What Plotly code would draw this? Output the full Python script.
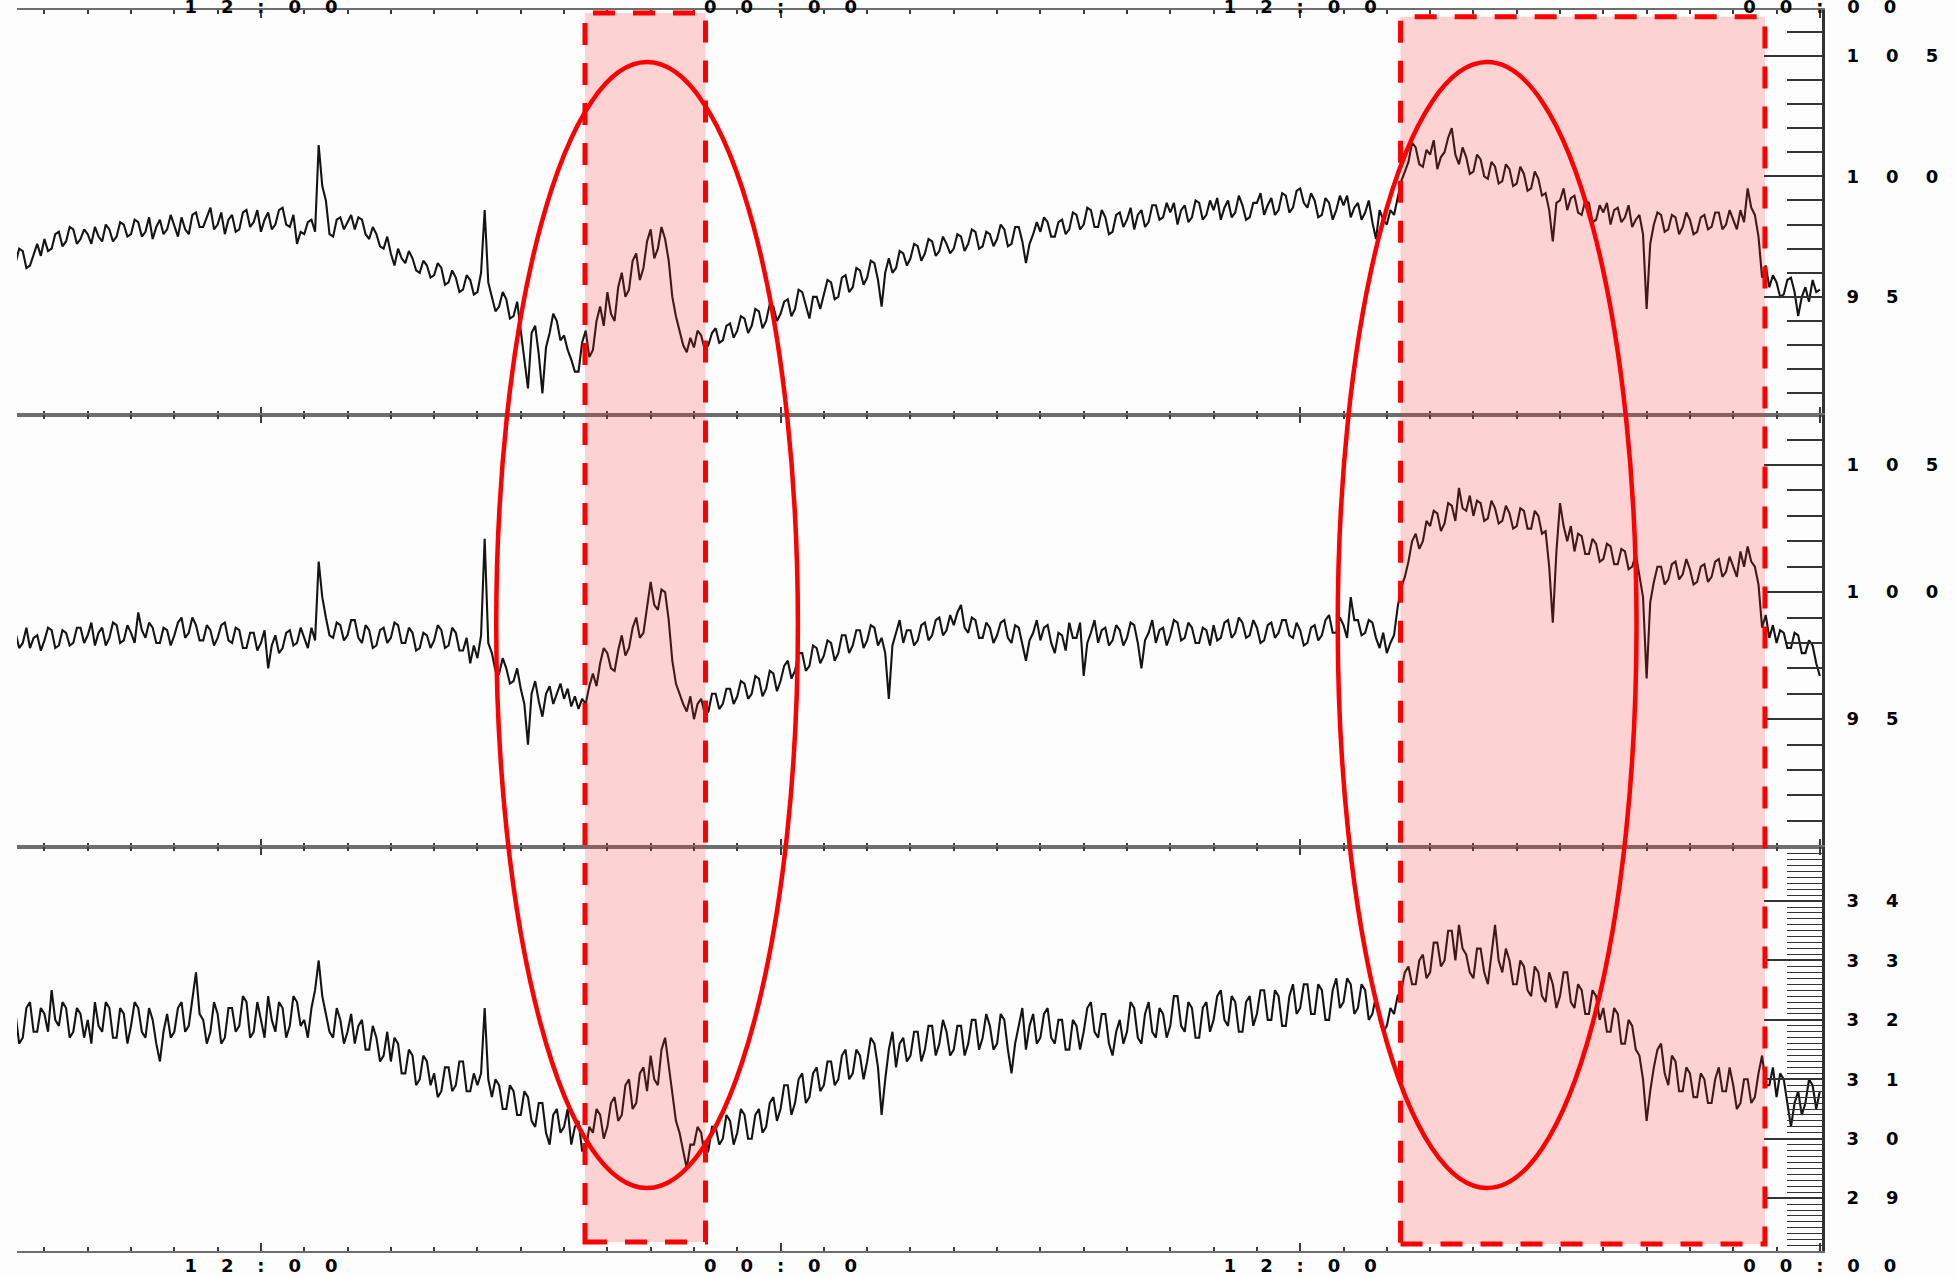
import pandas as pd
import plotly.graph_objects as go

# ---- sampled records: 5-minute values starting 06:00 on day one ----
START = "2011-06-14 06:00"
STEP = "5min"

top_vals = [
    96.8, 96.3, 97.1, 96.6, 96.4, 97.0, 96.9, 96.2, 96.3, 96.8, 97.2, 96.7,
    97.4, 96.9, 97.0, 97.6, 97.7, 97.1, 97.3, 97.9, 97.8, 97.2, 97.4, 97.8,
    97.6, 97.2, 97.9, 97.5, 97.3, 98.0, 97.8, 97.3, 97.5, 98.1, 98.0, 97.5,
    97.6, 98.2, 98.1, 97.5, 97.7, 98.3, 97.4, 97.9, 98.2, 97.6, 97.8, 98.4,
    97.9, 97.5, 98.3, 97.8, 97.6, 98.4, 98.5, 97.9, 97.9, 98.3, 98.7, 97.8,
    98.0, 98.5, 97.6, 98.2, 98.4, 97.7, 97.8, 98.5, 98.6, 97.9, 98.1, 98.6,
    97.7, 98.2, 98.5, 97.8, 98.0, 98.6, 98.7, 98.0, 97.9, 98.4, 97.2, 97.7,
    97.6, 98.1, 98.2, 97.7, 101.3, 99.6, 99.0, 97.6, 97.5, 98.2, 98.3, 97.8,
    98.1, 98.4, 97.8, 98.3, 98.2, 97.6, 97.4, 97.9, 97.6, 97.1, 97.0, 97.5,
    96.8, 96.3, 97.0, 96.6, 96.4, 96.9, 96.6, 96.1, 96.0, 96.5, 96.3, 95.8,
    95.9, 96.4, 96.2, 95.5, 95.6, 96.1, 95.8, 95.2, 95.3, 95.9, 95.7, 95.1,
    95.2, 96.0, 98.6, 95.6, 95.0, 94.4, 94.6, 95.2, 94.9, 94.1, 94.2, 94.8,
    93.6, 92.4, 91.2, 93.5, 93.8, 92.6, 91.0, 92.9, 93.5, 94.3, 94.0, 93.2,
    93.4, 92.8, 92.4, 91.9, 91.9, 93.1, 93.6, 92.5, 92.8, 94.0, 94.6, 93.8,
    95.2, 94.3, 94.0, 95.4, 96.0, 95.0, 95.3, 96.5, 96.8, 95.7, 96.2, 97.3,
    97.8, 96.6, 97.0, 97.9, 97.4, 96.5, 95.0, 94.2, 93.6, 93.0, 92.7, 93.3,
    92.9, 93.6, 93.4, 92.8, 93.0, 93.5, 93.7, 93.1, 93.2, 93.8, 93.9, 93.3,
    93.6, 94.2, 94.1, 93.5, 93.8, 94.5, 94.4, 93.7, 94.0, 94.7, 94.6, 94.0,
    94.3, 94.8, 94.9, 94.2, 94.5, 95.3, 95.2, 94.6, 94.1, 95.0, 95.0, 94.5,
    95.1, 95.7, 95.6, 94.9, 95.0, 95.8, 95.9, 95.2, 95.4, 96.2, 96.1, 95.5,
    95.8, 96.5, 96.4, 95.7, 94.6, 96.0, 96.6, 96.0, 96.2, 96.9, 96.8, 96.3,
    96.6, 97.2, 97.1, 96.5, 96.8, 97.4, 97.3, 96.7, 96.9, 97.5, 97.2, 96.8,
    97.0, 97.6, 97.5, 96.9, 97.2, 97.8, 97.7, 97.0, 97.1, 97.7, 97.6, 97.1,
    97.4, 98.0, 97.8, 97.1, 97.2, 97.9, 97.9, 97.3, 96.4, 97.2, 97.6, 98.1,
    97.7, 98.3, 98.1, 97.5, 97.5, 98.1, 98.2, 97.6, 97.8, 98.5, 98.4, 97.8,
    98.0, 98.7, 98.6, 97.9, 97.9, 98.6, 98.3, 97.6, 97.7, 98.4, 98.5, 97.9,
    98.2, 98.7, 97.8, 98.4, 98.6, 97.9, 98.1, 98.8, 98.8, 98.2, 98.3, 98.9,
    98.5, 98.9, 98.0, 98.6, 98.8, 98.1, 98.3, 99.0, 98.9, 98.2, 98.4, 99.0,
    98.6, 99.1, 98.2, 98.7, 99.0, 98.3, 98.5, 99.2, 98.8, 98.2, 98.3, 98.9,
    98.9, 99.3, 98.4, 98.8, 99.1, 98.4, 98.6, 99.3, 99.2, 98.5, 98.7, 99.4,
    99.5, 98.9, 98.7, 99.3, 99.0, 98.3, 98.4, 99.1, 98.9, 98.2, 98.6, 99.2,
    98.8, 99.2, 98.3, 98.7, 98.9, 98.2, 98.5, 99.0, 98.1, 97.4, 98.6, 98.2,
    98.0, 98.6, 98.4, 99.1, 99.8, 100.2, 100.6, 101.4, 101.2, 100.5, 100.4, 101.1,
    100.9, 101.5, 100.3, 100.8, 101.0, 101.6, 102.0, 100.9, 100.5, 101.2, 100.8, 100.1,
    100.2, 100.9, 100.7, 100.0, 99.9, 100.6, 100.4, 99.7, 99.8, 100.5, 100.3, 99.6,
    99.7, 100.4, 100.1, 99.4, 99.5, 100.2, 99.9, 99.2, 99.3, 98.6, 97.3, 98.9,
    99.0, 99.5, 98.6, 99.1, 99.2, 98.5, 98.4, 99.0, 98.9, 98.1, 98.2, 98.8,
    98.5, 98.9, 98.0, 98.6, 98.7, 98.1, 98.3, 98.8, 97.9, 98.2, 98.4, 97.6,
    94.5, 97.2, 98.0, 98.5, 98.4, 97.7, 97.8, 98.4, 98.3, 97.6, 97.9, 98.5,
    98.2, 97.6, 97.7, 98.3, 98.4, 97.8, 97.9, 98.5, 98.5, 97.8, 98.0, 98.6,
    98.2, 97.8, 98.6, 98.1, 99.5, 98.7, 98.4, 97.5, 95.8, 96.3, 95.4, 95.9,
    95.6, 95.0, 95.1, 95.7, 95.8, 95.2, 94.2, 95.0, 95.4, 94.8, 95.7, 95.2,
    95.3,
]

mid_vals = [
    98.2, 97.7, 97.9, 98.5, 98.4, 97.8, 98.0, 98.6, 97.8, 98.2, 98.3, 97.7,
    98.1, 98.6, 98.5, 97.8, 97.9, 98.5, 98.4, 97.9, 98.0, 98.6, 98.6, 98.0,
    98.3, 98.8, 97.9, 98.4, 98.6, 97.9, 98.2, 98.8, 98.7, 98.0, 98.1, 98.7,
    98.4, 98.0, 99.2, 98.5, 98.2, 98.8, 98.6, 98.0, 98.0, 98.6, 98.5, 97.9,
    98.3, 98.8, 99.0, 98.2, 98.4, 99.0, 98.7, 98.1, 98.1, 98.7, 98.5, 97.9,
    98.2, 98.7, 98.8, 98.1, 98.0, 98.6, 98.5, 97.8, 97.8, 98.4, 98.4, 97.7,
    98.0, 98.5, 97.0, 97.9, 98.3, 97.6, 97.8, 98.4, 98.5, 97.9, 98.0, 98.6,
    98.2, 97.8, 98.6, 98.1, 101.2, 99.8, 99.0, 98.3, 98.2, 98.8, 98.7, 98.1,
    98.3, 98.9, 98.9, 98.2, 98.0, 98.7, 98.5, 97.8, 97.9, 98.5, 98.6, 98.0,
    98.2, 98.8, 98.7, 98.0, 98.0, 98.6, 98.4, 97.7, 97.8, 98.4, 98.3, 97.8,
    98.1, 98.7, 98.5, 97.8, 97.9, 98.6, 98.4, 97.7, 97.7, 98.2, 97.2, 97.9,
    97.4, 98.3, 102.1, 98.0, 97.6, 96.9, 96.8, 97.4, 97.0, 96.4, 96.5, 97.0,
    96.2, 95.6, 94.0, 96.0, 96.5, 95.7, 95.1, 96.0, 96.3, 95.6, 96.0, 96.4,
    95.8, 96.2, 95.5, 95.9, 95.4, 95.8, 95.6, 96.3, 96.8, 96.3, 97.2, 97.8,
    97.6, 97.0, 96.9, 97.7, 98.3, 97.5, 97.8, 98.6, 99.0, 98.2, 98.4, 99.4,
    100.4, 99.5, 99.3, 100.1, 100.0, 98.9, 97.3, 96.4, 96.0, 95.6, 95.3, 95.9,
    95.0, 95.6, 95.8, 95.2, 95.3, 96.0, 96.0, 95.4, 95.6, 96.2, 96.2, 95.6,
    95.9, 96.5, 96.4, 95.8, 96.0, 96.7, 96.6, 95.9, 96.2, 96.9, 96.8, 96.1,
    96.5, 97.1, 97.3, 96.6, 96.9, 97.6, 97.6, 96.9, 97.1, 97.9, 97.8, 97.2,
    97.5, 98.1, 98.0, 97.3, 97.6, 98.3, 98.3, 97.6, 97.9, 98.5, 98.5, 97.8,
    98.1, 98.7, 98.6, 97.9, 98.2, 97.6, 95.8, 97.9, 98.4, 98.9, 98.0, 98.5,
    98.5, 97.9, 98.1, 98.7, 98.8, 98.1, 98.3, 98.9, 99.0, 98.3, 98.5, 99.1,
    98.7, 99.2, 99.5, 98.6, 98.4, 99.0, 98.9, 98.2, 98.2, 98.8, 98.6, 98.0,
    98.3, 98.8, 98.9, 98.2, 98.0, 98.7, 98.6, 98.0, 97.3, 98.1, 98.4, 98.9,
    98.1, 98.6, 98.7, 98.0, 97.6, 98.4, 98.3, 97.7, 98.8, 98.2, 98.2, 98.8,
    96.7, 98.0, 98.4, 98.9, 98.0, 98.5, 98.6, 97.9, 98.1, 98.7, 98.5, 97.9,
    98.2, 98.8, 98.7, 98.0, 97.0, 98.1, 98.4, 98.9, 98.0, 98.5, 98.6, 97.9,
    98.3, 98.9, 98.8, 98.1, 98.2, 98.8, 98.6, 98.0, 98.0, 98.6, 98.5, 97.9,
    98.7, 98.1, 98.2, 98.8, 98.9, 98.2, 98.4, 99.0, 98.8, 98.2, 98.3, 98.9,
    98.6, 98.0, 98.1, 98.7, 98.8, 98.2, 98.4, 98.9, 98.9, 98.3, 98.2, 98.8,
    98.5, 97.9, 98.0, 98.6, 98.7, 98.1, 98.3, 98.9, 99.1, 98.4, 98.4, 99.0,
    98.7, 98.2, 99.8, 98.9, 98.9, 98.3, 98.4, 98.9, 98.8, 98.2, 97.8, 98.4,
    97.6, 98.0, 98.3, 99.4, 100.2, 100.6, 101.2, 102.0, 102.3, 101.7, 102.0, 102.8,
    102.6, 103.2, 103.1, 102.4, 102.7, 103.5, 103.4, 102.8, 104.1, 103.3, 103.2, 103.8,
    103.0, 103.6, 103.5, 102.8, 102.9, 103.6, 103.3, 102.7, 102.8, 103.4, 103.1, 102.5,
    102.6, 103.3, 103.2, 102.5, 102.5, 103.2, 103.0, 102.3, 102.4, 101.0, 98.8, 101.6,
    103.5, 102.6, 102.0, 102.6, 101.6, 102.3, 102.2, 101.5, 101.5, 102.1, 101.9, 101.2,
    101.3, 101.9, 101.8, 101.1, 101.1, 101.7, 101.6, 100.9, 101.0, 101.5, 100.6, 99.8,
    96.6, 99.6, 100.4, 101.0, 101.0, 100.3, 100.5, 101.1, 101.2, 100.5, 100.7, 101.3,
    100.9, 100.3, 100.4, 101.0, 101.1, 100.4, 100.6, 101.2, 101.3, 100.6, 100.8, 101.4,
    101.0, 100.6, 101.6, 101.0, 101.8, 101.2, 101.0, 100.3, 98.6, 99.1, 98.2, 98.7,
    98.0, 98.5, 98.4, 97.8, 97.8, 98.4, 98.3, 97.6, 97.6, 98.1, 97.9, 97.2,
    96.7,
]

bot_vals = [
    31.9, 32.2, 31.4, 31.8, 32.1, 31.6, 31.7, 32.2, 32.3, 31.8, 31.8, 32.2,
    32.1, 31.8, 32.5, 32.0, 31.9, 32.3, 32.2, 31.7, 31.8, 32.2, 32.1, 31.7,
    32.0, 31.6, 32.3, 31.9, 31.8, 32.3, 32.2, 31.7, 31.7, 32.2, 32.1, 31.6,
    31.9, 32.3, 32.2, 31.8, 31.7, 32.2, 32.0, 31.6, 31.3, 31.8, 32.1, 31.7,
    31.8, 32.2, 32.3, 31.8, 31.9, 32.4, 32.8, 32.1, 32.0, 31.6, 31.8, 32.3,
    32.1, 31.6, 31.7, 32.2, 32.2, 31.8, 31.9, 32.4, 32.3, 31.7, 31.8, 32.3,
    32.0, 31.7, 32.4, 32.0, 31.8, 32.3, 32.2, 31.7, 31.9, 32.4, 32.3, 31.9,
    32.0, 31.7, 32.2, 32.5, 33.0, 32.4, 32.1, 31.8, 31.7, 32.2, 32.0, 31.6,
    31.8, 32.1, 31.6, 31.9, 32.0, 31.5, 31.5, 31.9, 31.7, 31.3, 31.4, 31.8,
    31.3, 31.7, 31.6, 31.1, 31.1, 31.5, 31.4, 30.9, 31.0, 31.4, 31.3, 30.9,
    31.1, 30.7, 30.8, 31.2, 31.2, 30.8, 30.9, 31.3, 31.3, 30.8, 30.8, 31.1,
    30.9, 31.1, 32.2, 31.0, 30.7, 31.0, 30.9, 30.5, 30.5, 30.9, 30.8, 30.4,
    30.4, 30.8, 30.7, 30.3, 30.2, 30.6, 30.6, 30.1, 29.9, 30.4, 30.5, 30.1,
    30.2, 30.5, 29.9, 30.2, 30.3, 29.8, 29.8, 30.2, 30.1, 30.5, 30.4, 30.0,
    30.2, 30.6, 30.7, 30.3, 30.4, 30.9, 31.0, 30.5, 30.6, 31.1, 31.2, 30.8,
    31.4, 31.0, 30.9, 31.5, 31.7, 31.2, 30.8, 30.3, 30.1, 29.8, 29.5, 29.9,
    29.9, 30.2, 30.1, 29.7, 29.8, 30.2, 30.2, 29.9, 30.0, 30.4, 30.3, 29.9,
    30.1, 30.5, 30.4, 30.0, 30.0, 30.4, 30.5, 30.1, 30.2, 30.6, 30.7, 30.3,
    30.5, 30.9, 30.9, 30.4, 30.6, 31.0, 31.1, 30.6, 30.7, 31.1, 31.2, 30.8,
    30.9, 31.3, 31.3, 30.9, 31.0, 31.4, 31.5, 31.0, 31.1, 31.5, 31.4, 31.0,
    31.3, 31.7, 31.6, 31.2, 30.4, 31.0, 31.5, 31.8, 31.2, 31.6, 31.7, 31.3,
    31.4, 31.8, 31.8, 31.3, 31.5, 31.9, 31.9, 31.4, 31.6, 32.0, 31.8, 31.4,
    31.5, 31.9, 31.9, 31.4, 31.6, 32.0, 32.0, 31.5, 31.7, 32.1, 31.9, 31.5,
    31.6, 32.1, 32.0, 31.5, 31.1, 31.6, 31.9, 32.2, 31.5, 31.9, 32.1, 31.6,
    31.7, 32.1, 32.2, 31.7, 31.6, 32.0, 32.0, 31.5, 31.5, 32.0, 31.9, 31.5,
    31.8, 32.2, 32.3, 31.8, 31.7, 32.1, 32.1, 31.6, 31.4, 31.8, 32.0, 31.6,
    31.8, 32.3, 32.2, 31.7, 31.6, 32.1, 32.3, 31.8, 31.7, 32.2, 32.1, 31.7,
    31.9, 32.4, 32.4, 31.9, 31.8, 32.3, 32.2, 31.7, 31.7, 32.2, 32.3, 31.8,
    32.0, 32.4, 32.5, 32.0, 31.9, 32.4, 32.3, 31.8, 31.8, 32.3, 32.4, 31.9,
    32.1, 32.5, 32.5, 32.0, 32.0, 32.5, 32.4, 31.9, 31.9, 32.4, 32.6, 32.1,
    32.2, 32.6, 32.6, 32.1, 32.1, 32.6, 32.5, 32.0, 32.0, 32.5, 32.7, 32.2,
    32.3, 32.7, 32.6, 32.1, 32.2, 32.6, 32.5, 32.0, 32.1, 32.4, 32.0, 31.8,
    31.9, 32.2, 32.1, 32.4, 32.5, 32.8, 32.9, 32.6, 32.6, 33.0, 33.1, 32.7,
    32.8, 33.3, 33.3, 32.9, 33.0, 33.5, 33.5, 33.0, 33.6, 33.2, 33.1, 32.8,
    32.7, 33.2, 33.2, 32.8, 32.6, 33.1, 33.6, 33.0, 32.8, 33.2, 33.0, 32.6,
    32.6, 33.0, 32.9, 32.5, 32.4, 32.9, 32.8, 32.4, 32.3, 32.8, 32.6, 32.2,
    32.4, 32.8, 32.8, 32.3, 32.2, 32.6, 32.5, 32.1, 32.1, 32.5, 32.4, 32.0,
    32.2, 31.8, 31.8, 32.2, 32.1, 31.6, 31.6, 32.0, 31.9, 31.5, 31.4, 31.0,
    30.3, 30.8, 31.2, 31.5, 31.6, 31.1, 30.9, 31.4, 31.3, 30.8, 30.8, 31.2,
    31.1, 30.7, 30.7, 31.1, 31.0, 30.6, 30.6, 31.0, 31.2, 30.8, 30.8, 31.2,
    30.9, 30.5, 30.6, 31.0, 31.0, 30.6, 30.7, 31.1, 31.4, 30.9, 30.9, 31.2,
    30.7, 31.1, 31.0, 30.6, 30.2, 30.6, 30.8, 30.4, 30.6, 31.0, 30.9, 30.5,
    30.8,
]

# value labels on the right-hand axes
upper_ticks = [95, 100, 105]
lower_ticks = [29, 30, 31, 32, 33, 34]
time_labels = ["12:00", "00:00"]

# shaded intervals and the ellipses that ring them
highlight_spans = [
    ("2011-06-14 19:29", "2011-06-14 22:16"),
    ("2011-06-15 14:19", "2011-06-15 22:44"),
]
ellipse_spans = [
    ("2011-06-14 17:26", "2011-06-15 00:24"),
    ("2011-06-15 12:52", "2011-06-15 19:46"),
]

times = pd.date_range(START, periods=len(top_vals), freq=STEP)

X_GAP = "\u2003\u2004"
Y_GAP = "\u2003\u2002"


def spaced(text, gap):
    return gap.join(text)


tick_font = dict(family="DejaVu Sans, Arial, sans-serif", size=18, color="#000000", weight="bold")
HOUR = 3600 * 1000

fig = go.Figure()
for vals, xa, ya in [(top_vals, "x", "y"), (mid_vals, "x2", "y2"), (bot_vals, "x3", "y3")]:
    fig.add_trace(go.Scatter(
        x=times, y=vals, xaxis=xa, yaxis=ya, mode="lines",
        line=dict(color="#141414", width=2.1),
        showlegend=False, hoverinfo="skip",
    ))

x_common = dict(
    type="date", range=["2011-06-14 06:22", "2011-06-16 00:03"],
    tick0="2011-06-14 00:00", dtick=12 * HOUR, tickformat="%H:%M",
    labelalias={t: spaced(t, X_GAP) for t in time_labels},
    ticks="inside", ticklen=8, tickwidth=1.6, tickcolor="#3a3a3a",
    minor=dict(dtick=HOUR, ticks="inside", ticklen=4, tickwidth=1.6, tickcolor="#3a3a3a", showgrid=False),
    showline=True, linecolor="#6e6e6e", linewidth=2, mirror="ticks",
    showgrid=False, zeroline=False, automargin=False, tickfont=tick_font,
    domain=[0, 1],
)

y_common = dict(
    side="right", tickmode="array",
    ticks="inside", ticklen=58, tickwidth=1.6, tickcolor="#333333",
    showline=True, linecolor="#333333", linewidth=3, mirror=False,
    showgrid=False, zeroline=False, automargin=False, tickfont=tick_font,
    ticklabelstandoff=18,
)

D1 = 0.67365
D2 = 0.32554

fig.update_layout(
    template="none",
    width=1955, height=1278,
    margin=dict(l=17, r=133, t=10, b=27),
    paper_bgcolor="#fdfdfd", plot_bgcolor="#fdfdfd",
    showlegend=False,
    xaxis=dict(x_common, anchor="y", side="top", showticklabels=True, ticklabelstandoff=-12),
    xaxis2=dict(x_common, anchor="y2", matches="x", showticklabels=False),
    xaxis3=dict(x_common, anchor="y3", matches="x", showticklabels=True, side="bottom",
                ticklabelstandoff=-3),
    yaxis=dict(y_common, domain=[D1, 1], anchor="x", range=[90.1, 106.9],
               tickvals=upper_ticks, ticktext=[spaced(str(v), Y_GAP) for v in upper_ticks],
               minor=dict(dtick=1, tick0=0, ticks="inside", ticklen=35, tickwidth=1.6, tickcolor="#333333")),
    yaxis2=dict(y_common, domain=[D2, D1], anchor="x2", range=[89.97, 106.97],
                tickvals=upper_ticks, ticktext=[spaced(str(v), Y_GAP) for v in upper_ticks],
                minor=dict(dtick=1, tick0=0, ticks="inside", ticklen=35, tickwidth=1.6, tickcolor="#333333")),
    yaxis3=dict(y_common, domain=[0, D2], anchor="x3", range=[28.11, 34.91],
                tickvals=lower_ticks, ticktext=[spaced(str(v), Y_GAP) for v in lower_ticks],
                minor=dict(dtick=0.1, tick0=0, ticks="inside", ticklen=35, tickwidth=1.4, tickcolor="#333333")),
)

# shaded intervals with dashed borders
span_tops = [0.9976, 0.9945]
span_bottoms = [0.0073, 0.0056]
for (x0, x1), y1, y0 in zip(highlight_spans, span_tops, span_bottoms):
    fig.add_shape(
        type="rect", xref="x", yref="paper", x0=x0, x1=x1, y0=y0, y1=y1,
        fillcolor="rgba(255,40,40,0.2)", layer="above",
        line=dict(color="#ff0000", width=5, dash="22px,18px"),
    )

# ellipses ringing the events
for x0, x1 in ellipse_spans:
    fig.add_shape(
        type="circle", xref="x", yref="paper", x0=x0, x1=x1, y0=0.0508, y1=0.958,
        line=dict(color="#ff0000", width=4.5), fillcolor="rgba(0,0,0,0)", layer="above",
    )

fig.write_html("out.html")
